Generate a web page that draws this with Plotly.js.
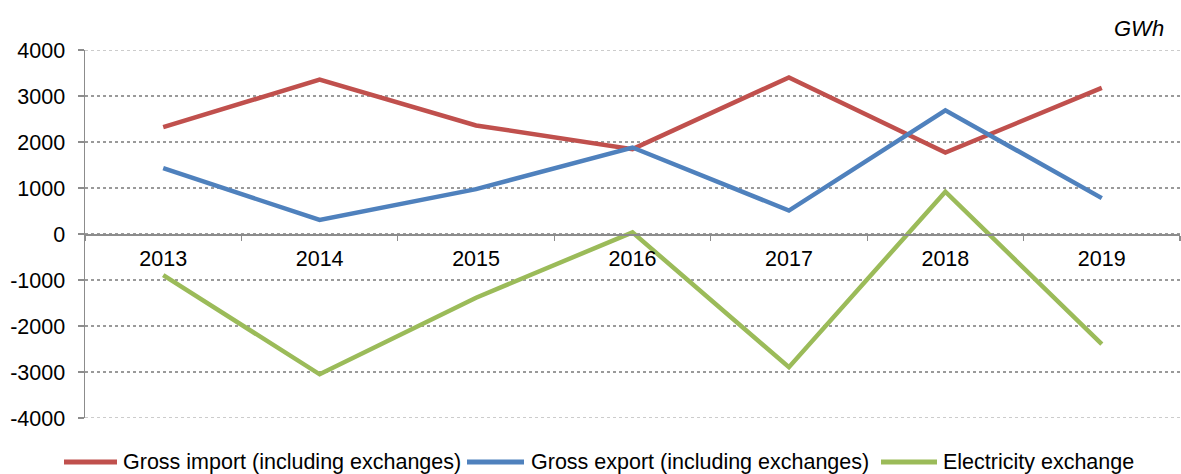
<!DOCTYPE html>
<html><head><meta charset="utf-8">
<script src="https://cdn.plot.ly/plotly-3.0.1.min.js"></script>
<style>html,body{margin:0;padding:0;background:#fff;}#chart{width:1181px;height:474px;}</style>
</head><body><div id="chart"></div>
<script>
const years = ['2013','2014','2015','2016','2017','2018','2019'];
const grossImport = [2325, 3355, 2360, 1845, 3405, 1770, 3175];
const grossExport = [1430, 305, 975, 1880, 510, 2690, 780];
const exchange = [-895, -3050, -1385, 35, -2895, 920, -2395];
const yTicks = [-4000, -3000, -2000, -1000, 0, 1000, 2000, 3000, 4000];
const seriesNames = ['Gross import (including exchanges)', 'Gross export (including exchanges)', 'Electricity exchange'];
const seriesColors = ['#C0504D', '#4F81BD', '#9BBB59'];

const W = 1181, H = 474;
const M = {l: 85, r: 1, t: 50, b: 56};
const PW = W - M.l - M.r, PH = H - M.t - M.b;
const px = x => (x - M.l) / PW;           // pixel -> paper x
const py = y => (H - M.b - y) / PH;       // pixel -> paper y

const font = {family: 'Liberation Sans, Arial, sans-serif', size: 21.5, color: '#000'};
function tr(i, y) {
  return {x: years, y: y, name: seriesNames[i], type: 'scatter', mode: 'lines',
    line: {color: seriesColors[i], width: 4.5}, hoverinfo: 'skip', showlegend: false};
}
const data = [tr(0, grossImport), tr(1, grossExport), tr(2, exchange)];

// manual legend (pixel positions)
const legendItems = [
  {x0: 64, x1: 117, tx: 121},
  {x0: 467, x1: 524, tx: 529},
  {x0: 881, x1: 937, tx: 941}
];
const legY = 462;
const shapes = [];
const annotations = [];
legendItems.forEach((it, i) => {
  shapes.push({type: 'line', xref: 'paper', yref: 'paper',
    x0: px(it.x0), x1: px(it.x1), y0: py(legY), y1: py(legY),
    line: {color: seriesColors[i], width: 5}});
  annotations.push({text: seriesNames[i], xref: 'paper', yref: 'paper',
    x: px(it.tx), y: py(legY), xanchor: 'left', yanchor: 'middle',
    showarrow: false, font: font});
});
// edge gridlines (Plotly skips grid at range edges)
[yTicks[0], yTicks[yTicks.length - 1]].forEach(v => {
  shapes.push({type: 'line', xref: 'paper', yref: 'y', x0: 0, x1: 1, y0: v, y1: v,
    line: {color: '#9a9a9a', width: 1.2, dash: 'dot'}, layer: 'below'});
});
annotations.push({text: '<i>GWh</i>', xref: 'paper', yref: 'paper', x: px(1166), y: py(28),
  xanchor: 'right', yanchor: 'middle', showarrow: false,
  font: {family: font.family, size: 22, color: '#000'}});

const layout = {
  width: W, height: H,
  margin: M,
  paper_bgcolor: '#fff', plot_bgcolor: '#fff',
  font: font,
  showlegend: false,
  xaxis: {type: 'category', anchor: 'free', position: 0.5,
    showline: true, linecolor: '#8c8c8c', linewidth: 1.5,
    ticks: 'outside', tickson: 'boundaries', ticklen: 5, tickcolor: '#8c8c8c', tickwidth: 1.2,
    ticklabelstandoff: 5,
    showgrid: false, zeroline: false, tickfont: font,
    range: [-0.5, 6.5], fixedrange: true},
  yaxis: {range: [-4000, 4000], tickvals: yTicks, ticktext: yTicks.map(String),
    showline: true, linecolor: '#8c8c8c', linewidth: 1.5,
    ticks: 'outside', ticklen: 6, tickcolor: '#8c8c8c', tickwidth: 1.2,
    ticklabelstandoff: 8,
    showgrid: true, gridcolor: '#9a9a9a', griddash: 'dot', gridwidth: 1.2,
    zeroline: false, tickfont: font, fixedrange: true},
  shapes: shapes,
  annotations: annotations
};
Plotly.newPlot('chart', data, layout, {staticPlot: true, displayModeBar: false});
</script></body></html>
